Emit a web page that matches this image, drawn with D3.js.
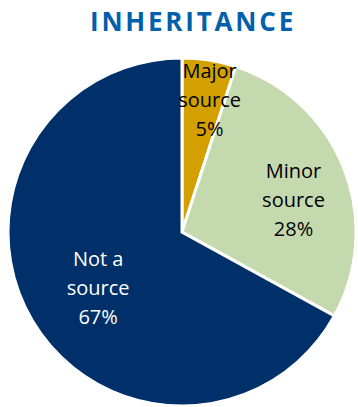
<!DOCTYPE html>
<html>
<head>
<meta charset="utf-8">
<script src="https://cdn.jsdelivr.net/npm/d3@7"></script>
<style>
  body { margin: 0; background: #fff; }
</style>
</head>
<body>
<script>
// slice data
var categories = ['Major source', 'Minor source', 'Not a source'];
var values = [5, 28, 67];
var colors = ['#D4A000', '#C5D9AF', '#00306A'];
// label lines per slice
var labelLines = [['Major', 'source', '5%'], ['Minor', 'source', '28%'], ['Not a', 'source', '67%']];

var width = 358, height = 407;
var cx = 182, cy = 232, radius = 174;

var svg = d3.select('body').append('svg')
  .attr('width', width).attr('height', height);

svg.append('text')
  .attr('x', 193).attr('y', 31)
  .attr('text-anchor', 'middle')
  .style('font-family', 'Open Sans')
  .style('font-weight', 'bold')
  .style('font-size', '26px')
  .style('letter-spacing', '2.8px')
  .style('fill', '#0060AC')
  .text('INHERITANCE');

var pie = d3.pie().sort(null).value(function(d) { return d; });
var arcs = pie(values);
var arc = d3.arc().innerRadius(0).outerRadius(radius);

var g = svg.append('g').attr('transform', 'translate(' + cx + ',' + cy + ')');

g.selectAll('path').data(arcs).enter().append('path')
  .attr('d', arc)
  .attr('fill', function(d, i) { return colors[i]; })
  .attr('stroke', '#fff')
  .attr('stroke-width', 3)
  .attr('stroke-linejoin', 'miter');

// label radius per slice + small nudges so they sit like the original
var labelR = [0.83, 0.68, 0.55];
var nudge = [[5, 11], [1.5, 11.5], [-1.5, 7.5]];
var labelArc = function(d, i) {
  return d3.arc().innerRadius(radius * labelR[i]).outerRadius(radius * labelR[i]).centroid(d);
};

var lineH = 29;
g.selectAll('text.lbl').data(arcs).enter().append('text')
  .attr('class', 'lbl')
  .attr('text-anchor', 'middle')
  .style('font-family', 'Open Sans')
  .style('font-size', '20px')
  .style('fill', function(d, i) { return i === 2 ? '#fff' : '#000'; })
  .each(function(d, i) {
    var c = labelArc(d, i);
    var t = d3.select(this);
    labelLines[i].forEach(function(line, k) {
      t.append('tspan')
        .attr('x', c[0] + nudge[i][0])
        .attr('y', c[1] + (k - 1) * lineH + 7 + nudge[i][1])
        .text(line);
    });
  });
</script>
</body>
</html>
